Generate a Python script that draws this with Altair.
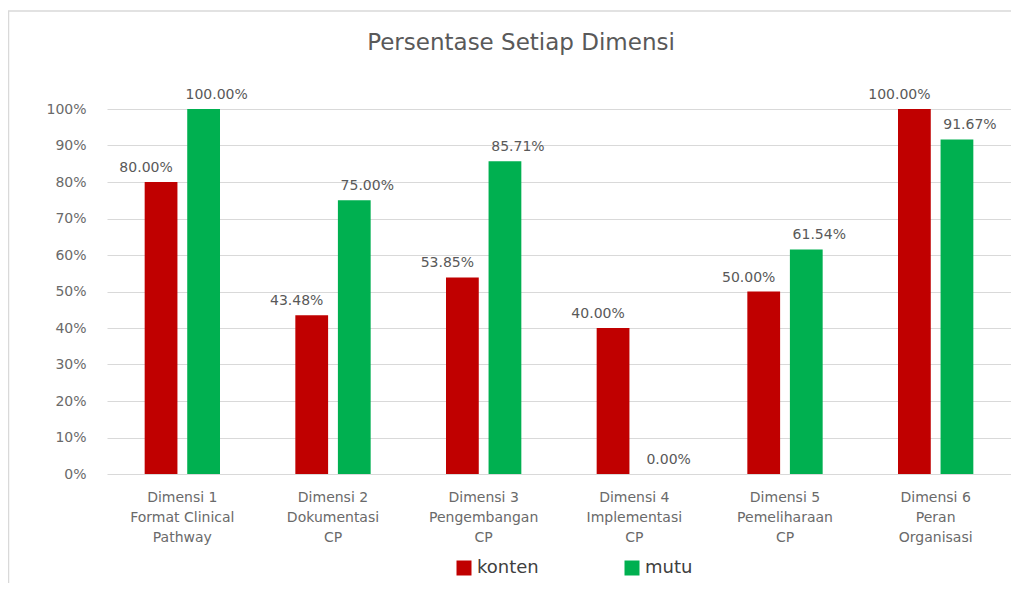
import altair as alt
import pandas as pd

title_text = "Persentase Setiap Dimensi"
categories = [
    "Dimensi 1\nFormat Clinical\nPathway",
    "Dimensi 2\nDokumentasi\nCP",
    "Dimensi 3\nPengembangan\nCP",
    "Dimensi 4\nImplementasi\nCP",
    "Dimensi 5\nPemeliharaan\nCP",
    "Dimensi 6\nPeran\nOrganisasi",
]
konten = [0.80, 0.4348, 0.5385, 0.40, 0.50, 1.00]
mutu = [1.00, 0.75, 0.8571, 0.00, 0.6154, 0.9167]
series = ["konten", "mutu"]
colors = ["#C00000", "#00B050"]
y_ticks = [i / 10 for i in range(11)]

rows = []
for c, k, m in zip(categories, konten, mutu):
    rows.append({"cat": c, "series": "konten", "val": k})
    rows.append({"cat": c, "series": "mutu", "val": m})
df = pd.DataFrame(rows)

FONT = "DejaVu Sans"
GRAY = "#595959"
AXGRAY = "#6a6a6a"

x_enc = alt.X(
    "cat:N",
    sort=categories,
    scale=alt.Scale(paddingInner=0.5, paddingOuter=0.25),
    axis=alt.Axis(
        title=None, labelAngle=0, ticks=False, domain=False,
        labelPadding=16, labelLineHeight=20, labelFontSize=14,
        labelColor=AXGRAY, labelFont=FONT,
        labelExpr="split(datum.label, '\\n')",
    ),
)
xoff = alt.XOffset("series:N", sort=series,
                   scale=alt.Scale(paddingInner=0.23, paddingOuter=0))
y_enc = alt.Y(
    "val:Q",
    scale=alt.Scale(domain=[0, 1]),
    axis=alt.Axis(
        title=None, values=y_ticks, format=".0%", domain=False, ticks=False,
        gridColor="#d9d9d9", labelPadding=21, labelFontSize=14,
        labelColor=AXGRAY, labelFont=FONT,
    ),
)

base = alt.Chart(df)

bars = base.mark_bar().encode(
    x=x_enc,
    xOffset=xoff,
    y=y_enc,
    color=alt.Color(
        "series:N",
        sort=series,
        scale=alt.Scale(domain=series, range=colors),
        legend=alt.Legend(
            title=None, orient="none", legendX=348, legendY=450,
            direction="horizontal", columnPadding=84,
            labelFontSize=18, labelColor="#404040", labelFont=FONT,
            symbolType="square", symbolSize=225, symbolStrokeWidth=0,
            labelOffset=4,
        ),
    ),
)

label_common = dict(baseline="bottom", fontSize=14, color=GRAY, font=FONT, dy=-7)
labels_k = base.transform_filter(alt.datum.series == "konten").mark_text(
    dx=-15, **label_common
).encode(x=x_enc, xOffset=xoff, y=y_enc, text=alt.Text("val:Q", format=".2%"))
labels_m = base.transform_filter(alt.datum.series == "mutu").mark_text(
    dx=13, **label_common
).encode(x=x_enc, xOffset=xoff, y=y_enc, text=alt.Text("val:Q", format=".2%"))

one = alt.Data(values=[{"t": title_text}])

border = alt.Chart(one).mark_rect(
    fillOpacity=0, stroke="#d9d9d9", strokeWidth=1.5
).encode(
    x=alt.value(-98.5), x2=alt.value(940), y=alt.value(-98), y2=alt.value(520)
)

title = alt.Chart(one).mark_text(
    fontSize=23, color=GRAY, font=FONT, align="center", baseline="middle"
).encode(x=alt.value(414), y=alt.value(-66), text="t:N")

chart = (
    alt.layer(border, bars, labels_k, labels_m, title)
    .properties(
        width=904,
        height=365,
        autosize=alt.AutoSizeParams(type="none"),
        padding={"left": 99, "top": 101, "right": 0, "bottom": 109},
    )
    .configure_view(stroke=None)
)

chart.save("out.html", embed_options={"renderer": "svg", "actions": False})
